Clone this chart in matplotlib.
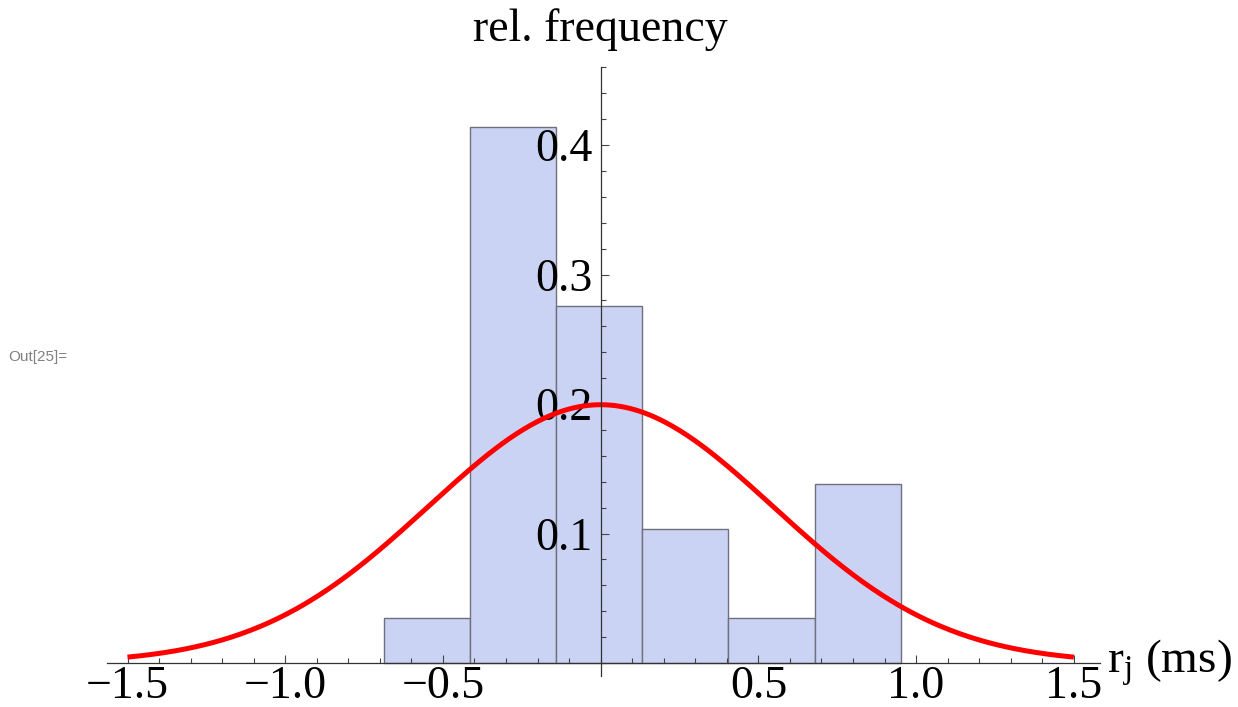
import numpy as np
import matplotlib
matplotlib.use("Agg")
import matplotlib.pyplot as plt
from matplotlib.ticker import MultipleLocator, FixedLocator

plt.rcParams['font.family'] = ['Liberation Serif', 'DejaVu Serif']
plt.rcParams['mathtext.fontset'] = 'custom'
plt.rcParams['mathtext.rm'] = 'Liberation Serif'
plt.rcParams['mathtext.it'] = 'Liberation Serif:italic'

# histogram bins (ms) and relative frequencies (counts / 29)
edges = [-0.687, -0.414, -0.141, 0.132, 0.405, 0.678, 0.951]
counts = [1, 12, 8, 3, 1, 4]
n_total = 29
freq = [c / n_total for c in counts]

# fitted normal curve, scaled by bin width
mu = 0.0
sigma = 0.546

xticks = [-1.5, -1.0, -0.5, 0.5, 1.0, 1.5]
yticks = [0.1, 0.2, 0.3, 0.4]

fig = plt.figure(figsize=(12.38, 7.07), dpi=100)
ax = fig.add_axes([107/1238, 31/707, (1100-107)/1238, (676-67.3)/707])

widths = np.diff(edges)
ax.bar(edges[:-1], freq, width=widths, align='edge',
       color='#cbd3f5', edgecolor='#70707c', linewidth=1.0, zorder=1)

bw = widths.mean()
xs = np.linspace(-1.5, 1.5, 400)
ys = bw * np.exp(-(xs - mu)**2 / (2*sigma**2)) / (sigma*np.sqrt(2*np.pi))
ax.plot(xs, ys, color='#ff0000', lw=3.6, zorder=2, solid_capstyle='butt')

ax.set_xlim(-1.565, 1.583)
ax.set_ylim(-0.01, 0.46)

for s in ['top', 'right']:
    ax.spines[s].set_visible(False)
ax.spines['left'].set_position(('data', 0))
ax.spines['bottom'].set_position(('data', 0))
for s in ['left', 'bottom']:
    ax.spines[s].set_color('#333333')
    ax.spines[s].set_linewidth(0.9)
    ax.spines[s].set_zorder(3)

ax.xaxis.set_major_locator(FixedLocator(xticks))
ax.xaxis.set_minor_locator(MultipleLocator(0.1))
ax.yaxis.set_major_locator(FixedLocator(yticks))
ax.yaxis.set_minor_locator(MultipleLocator(0.02))
ax.set_xticklabels([f"{v:.1f}".replace('-', '\u2212') for v in xticks])
ax.set_yticklabels([f"{v:.1f}" for v in yticks])

ax.tick_params(which='both', direction='in', color='#444444', width=0.8)
ax.tick_params(which='major', length=5.5, labelsize=33)
ax.tick_params(which='minor', length=3.5)
ax.tick_params(axis='x', pad=2)
ax.tick_params(axis='y', pad=6)

fig.text(600/1238, 1 - 8/707, "rel. frequency", ha='center', va='top', fontsize=33)
fig.text(1107/1238, 1 - 663/707, r"r$_{\mathrm{j}}$ (ms)", ha='left', va='center', fontsize=34)
fig.text(8/1238, 1 - 357/707, "Out[25]=", ha='left', va='center', fontsize=11,
         color='#808080', family='Liberation Sans')

fig.savefig("out.png", dpi=100)
